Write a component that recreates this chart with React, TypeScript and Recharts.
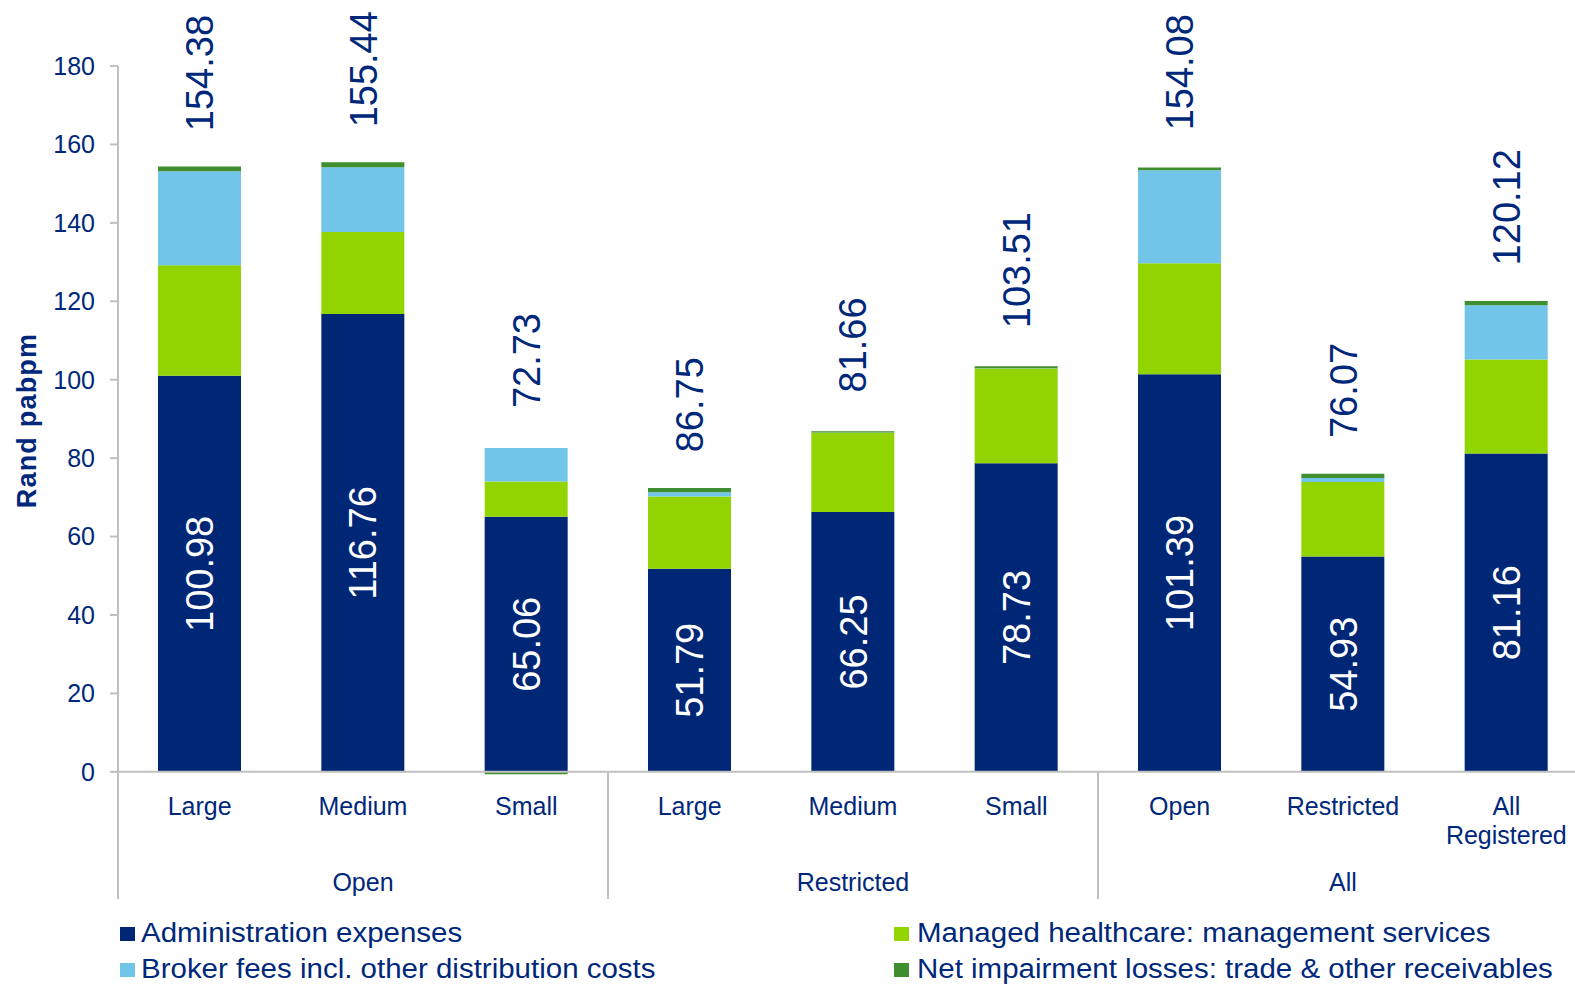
import React from 'react';
import { BarChart, Bar, XAxis, YAxis, ReferenceLine, LabelList } from 'recharts';

const categories = ['Large', 'Medium', 'Small', 'Large', 'Medium', 'Small', 'Open', 'Restricted', 'All Registered'];
const groups = ['Open', 'Open', 'Open', 'Restricted', 'Restricted', 'Restricted', 'All', 'All', 'All'];
const adminExpenses = [100.98, 116.76, 65.06, 51.79, 66.25, 78.73, 101.39, 54.93, 81.16];
const managedHealthcare = [28.2, 20.9, 9.0, 18.4, 20.2, 24.1, 28.3, 19.0, 24.0];
const brokerFees = [24.0, 16.5, 8.5, 1.1, 0.1, 0.1, 23.7, 1.0, 13.8];
const netImpairment = [1.2, 1.28, -0.6, 1.1, 0.3, 0.5, 0.7, 1.1, 1.1];
const totalLabels = ['154.38', '155.44', '72.73', '86.75', '81.66', '103.51', '154.08', '76.07', '120.12'];
const yTicks = [0, 20, 40, 60, 80, 100, 120, 140, 160, 180];

const seriesNames = [
  'Administration expenses',
  'Managed healthcare: management services',
  'Broker fees incl. other distribution costs',
  'Net impairment losses: trade & other receivables',
];

const NAVY = '#002776';
const TEXT = '#00287A';
const GREEN = '#92D400';
const BLUE = '#71C5E8';
const DKGREEN = '#3F8E2F';
const AXIS = '#C0C0C0';
const FONT = '"Liberation Sans", Arial, sans-serif';

const data = categories.map((c, i) => ({
  category: c,
  group: groups[i],
  admin: adminExpenses[i],
  managed: managedHealthcare[i],
  broker: brokerFees[i],
  impairment: netImpairment[i],
  total: totalLabels[i],
}));

const CategoryTick = (props: any) => {
  const { x, y, payload, index } = props;
  const half = payload && typeof payload.offset === 'number' && payload.offset > 0 ? payload.offset : 81.6;
  const i = typeof index === 'number' ? index : payload.index;
  const g = groups[i];
  const startGroup = i === 0 || groups[i - 1] !== g;
  const endGroup = i === groups.length - 1 || groups[i + 1] !== g;
  const members = groups.map((v, k) => (v === g ? k : -1)).filter((k) => k >= 0);
  const mid = members[Math.floor(members.length / 2)];
  const lines = String(payload.value).split(' ');
  return (
    <g>
      {lines.map((ln, k) => (
        <text key={k} x={x} y={y + 40 + k * 29} textAnchor="middle" fill={TEXT} fontSize={25} fontFamily={FONT}>
          {ln}
        </text>
      ))}
      {startGroup && <line x1={x - half} x2={x - half} y1={y - 4} y2={y + 124} stroke={AXIS} strokeWidth={2} />}
      {endGroup && <line x1={x + half} x2={x + half} y1={y - 4} y2={y + 124} stroke={AXIS} strokeWidth={2} />}
      {i === mid && (
        <text x={x} y={y + 116} textAnchor="middle" fill={TEXT} fontSize={25} fontFamily={FONT}>
          {g}
        </text>
      )}
    </g>
  );
};

const InnerLabel = (props: any) => {
  const vb = props.viewBox || {};
  const x = props.x ?? vb.x;
  const y = props.y ?? vb.y;
  const width = props.width ?? vb.width;
  const height = props.height ?? vb.height;
  const cx = x + width / 2;
  const cy = y + height / 2;
  return (
    <text x={cx} y={cy} dy="0.36em" transform={`rotate(-90, ${cx}, ${cy})`} textAnchor="middle" fill="#FFFFFF" fontSize={38} fontFamily={FONT}>
      {Number(props.value).toFixed(2)}
    </text>
  );
};

const TopLabel = (props: any) => {
  const vb = props.viewBox || {};
  const x = props.x ?? vb.x;
  const y = props.y ?? vb.y;
  const width = props.width ?? vb.width;
  const cx = x + width / 2;
  const by = y - 40;
  return (
    <text x={cx} y={by} dy="0.36em" transform={`rotate(-90, ${cx}, ${by})`} textAnchor="start" fill={TEXT} fontSize={38} fontFamily={FONT}>
      {props.value}
    </text>
  );
};

const YTitle = (props: any) => {
  const vb = props.viewBox || { x: 0, y: 66, width: 118, height: 709 };
  const cx = vb.x + 36;
  const cy = vb.y + vb.height / 2;
  return (
    <text x={cx} y={cy} transform={`rotate(-90, ${cx}, ${cy})`} textAnchor="middle" fill={TEXT} fontSize={27} fontWeight="bold" letterSpacing={1.2} fontFamily={FONT}>
      Rand pabpm
    </text>
  );
};

const legendColors = [NAVY, GREEN, BLUE, DKGREEN];

export default function App() {
  return (
    <div style={{ position: 'fixed', left: 0, top: 0, width: 1575, height: 984, overflow: 'hidden', background: '#FFFFFF' }}>
      <BarChart
        width={1588}
        height={984}
        data={data}
        stackOffset="sign"
        margin={{ top: 66, right: 0, left: 0, bottom: 79 }}
        barSize={83}
      >
        <XAxis
          dataKey="category"
          height={130}
          axisLine={false}
          tickLine={false}
          tickSize={0}
          tickMargin={0}
          interval={0}
          tick={<CategoryTick />}
        />
        <YAxis
          width={118}
          domain={[-0.8, 180]}
          allowDataOverflow
          ticks={yTicks}
          axisLine={{ stroke: AXIS, strokeWidth: 2 }}
          tickLine={{ stroke: AXIS, strokeWidth: 2 }}
          tickSize={8}
          tickMargin={15}
          tick={{ fill: TEXT, fontSize: 25, fontFamily: FONT }}
          label={<YTitle />}
        />
        <Bar dataKey="admin" stackId="a" fill={NAVY} isAnimationActive={false}>
          <LabelList dataKey="admin" content={<InnerLabel />} />
        </Bar>
        <Bar dataKey="managed" stackId="a" fill={GREEN} isAnimationActive={false} />
        <Bar dataKey="broker" stackId="a" fill={BLUE} isAnimationActive={false}>
          <LabelList dataKey="total" content={<TopLabel />} />
        </Bar>
        <Bar dataKey="impairment" stackId="a" fill={DKGREEN} isAnimationActive={false} />
        <ReferenceLine y={0} stroke={AXIS} strokeWidth={2} />
      </BarChart>
      <svg width={1575} height={984} style={{ position: 'absolute', left: 0, top: 0, pointerEvents: 'none' }}>
        {seriesNames.map((name, i) => {
          const col = i % 2;
          const row = Math.floor(i / 2);
          const sx = col === 0 ? 120 : 894;
          const tx = col === 0 ? sx + 21 : sx + 23;
          const baseY = 942 + row * 36;
          return (
            <g key={name}>
              <rect x={sx} y={baseY - 15} width={15} height={14} fill={legendColors[i]} />
              <text transform={`translate(${tx}, ${baseY}) scale(1.053, 1)`} x={0} y={0} fill={TEXT} fontSize={28} fontFamily={FONT}>
                {name}
              </text>
            </g>
          );
        })}
      </svg>
    </div>
  );
}
